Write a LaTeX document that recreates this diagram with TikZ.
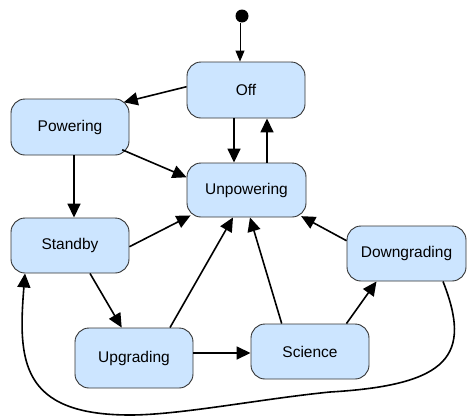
\documentclass[tikz,border=0pt]{standalone}
\usepackage{fontspec}
\setmainfont{Liberation Sans}
\usetikzlibrary{arrows.meta}
\definecolor{boxfill}{HTML}{CCE5FF}
\definecolor{boxline}{HTML}{333333}
\begin{document}
\begin{tikzpicture}[x=1pt,y=-1pt,
 state/.style={draw=boxline, line width=0.9pt, fill=boxfill, rounded corners=14pt,
   minimum width=118pt, minimum height=55pt, inner sep=0pt,
   font=\fontsize{15.5}{18}\selectfont},
 tr/.style={line width=1.6pt, -{Triangle[length=14pt,width=13pt]}},
 initarrow/.style={line width=1pt, -{Triangle[length=11pt,width=9pt]}},
]
\useasboundingbox (0,0) rectangle (469,418);
\node[circle, fill=black, inner sep=0pt, minimum size=13pt] (init) at (242,16) {};
\node[state, minimum height=56pt] (off) at (246,90) {Off};
\node[state, minimum height=56pt] (pow) at (70,127) {Powering};
\node[state, minimum width=119pt, minimum height=54pt] (unp) at (246.5,190) {Unpowering};
\node[state] (stb) at (70,245.5) {Standby};
\node[state, minimum width=119pt] (dng) at (406.5,253.5) {Downgrading};
\node[state] (sci) at (310,351.5) {Science};
\node[state, minimum height=60pt] (upg) at (134,358) {Upgrading};

\draw[initarrow] ([xshift=-2pt]init.south) -- ([xshift=-2pt]init.south |- off.north);
\draw[tr] ([yshift=3.3pt]off.west) -- ([xshift=-5.7pt,yshift=-3.7pt]pow.north east);
\draw[tr] ([xshift=-12pt]off.south) -- ([xshift=-12pt]off.south |- unp.north);
\draw[tr] ([xshift=20.5pt]unp.north) -- ([xshift=20.5pt]unp.north |- off.south);
\draw[tr] ([xshift=-7.3pt,yshift=5.7pt]pow.south east) -- ([yshift=12.7pt]unp.west);
\draw[tr] ([xshift=4pt]pow.south) -- ([xshift=4pt]pow.south |- stb.north);
\draw[tr] ([yshift=-1.2pt]stb.east) -- ([xshift=4pt,yshift=2pt]unp.south west);
\draw[tr] ([xshift=20pt]stb.south) -- ([xshift=-12.3pt]upg.north);
\draw[tr] ([xshift=36pt]upg.north) -- ([xshift=-13.5pt]unp.south);
\draw[tr] ([xshift=-28.3pt]sci.north) -- ([xshift=3.5pt]unp.south);
\draw[tr] ([yshift=12.8pt]dng.west) -- ([xshift=-5.3pt,yshift=1.3pt]unp.south east);
\draw[tr] ([yshift=5pt]upg.east) -- ([yshift=5pt]upg.east -| sci.west);
\draw[tr] ([xshift=-23pt]sci.north east) -- ([xshift=-30pt]dng.south);
\draw[tr] ([xshift=36.5pt]dng.south) .. controls (472,355) and (450,385) .. (330,392)
  .. controls (260,399) and (180,415) .. (130,415)
  .. controls (20,415) and (18,360) .. ([xshift=-45pt]stb.south);
\end{tikzpicture}
\end{document}
